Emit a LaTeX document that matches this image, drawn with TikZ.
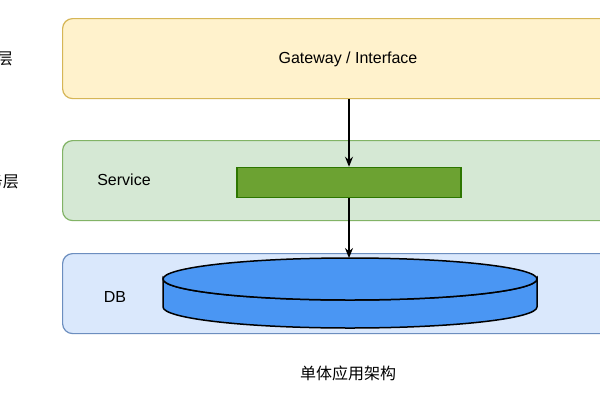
\documentclass[tikz,border=0pt]{standalone}
\usepackage{fontspec}
\setmainfont{Liberation Sans}
\newfontfamily\cjk{Noto Sans CJK SC}
\usetikzlibrary{arrows.meta}
\definecolor{ylfill}{HTML}{FFF2CC}
\definecolor{yldraw}{HTML}{D6B656}
\definecolor{gnfill}{HTML}{D5E8D4}
\definecolor{gndraw}{HTML}{82B366}
\definecolor{blfill}{HTML}{DAE8FC}
\definecolor{bldraw}{HTML}{6C8EBF}
\definecolor{barfill}{HTML}{6CA232}
\definecolor{bardraw}{HTML}{2D7600}
\definecolor{dbfill}{HTML}{4A96F3}
\tikzset{
  layer/.style={draw, line width=1.2pt, rounded corners=10pt, anchor=north west,
    minimum width=600pt, minimum height=80pt, inner sep=0pt},
  lbl/.style={font=\fontsize{16}{18}\selectfont, inner sep=0pt},
  cjklbl/.style={font=\fontsize{16}{18}\selectfont\cjk, inner sep=0pt},
  flow/.style={draw=black, line width=1.2pt, -{Stealth[length=10pt,width=8pt]}}
}
\begin{document}
\begin{tikzpicture}[x=1pt,y=-1pt]
\useasboundingbox (0,0) rectangle (600,400);
\clip (0,0) rectangle (600,400);
\fill[white] (0,0) rectangle (600,400);
% layer bands
\node[layer, fill=ylfill, draw=yldraw] (l1) at (62,18) {};
\node[layer, fill=gnfill, draw=gndraw] (l2) at (62,140) {};
\node[layer, fill=blfill, draw=bldraw] (l3) at (62,253) {};
% layer names (cut at left edge, as in the reference)
\node[cjklbl, anchor=east] (n1) at (13,58) {接入层};
\node[cjklbl, anchor=east] (n2) at (19,181) {业务层};
% texts
\node[lbl] (gw) at (348,59) {Gateway / Interface};
\node[lbl] (svc) at (124,180) {Service};
\node[lbl] (db) at (115,297) {DB};
% service bar
\node[draw=bardraw, fill=barfill, line width=1.5pt, minimum width=224pt,
  minimum height=30pt, inner sep=0pt] (bar) at (349,182.5) {};
% database cylinder
\coordinate (dbtop) at (349,258);
\filldraw[fill=dbfill, draw=black, line width=1.5pt]
  (163,279) -- (163,307) arc[start angle=180, end angle=360, x radius=187pt, y radius=21pt]
  -- (537,279) arc[start angle=0, end angle=-180, x radius=187pt, y radius=21pt] -- cycle;
\filldraw[fill=dbfill, draw=black, line width=1.5pt]
  (350,279) ellipse[x radius=187pt, y radius=21pt];
% connectors
\draw[flow] (l1.south -| bar.north) -- (bar.north);
\draw[flow] (bar.south) -- (dbtop);
% caption
\node[cjklbl] (cap) at (348,373) {单体应用架构};
\end{tikzpicture}
\end{document}
